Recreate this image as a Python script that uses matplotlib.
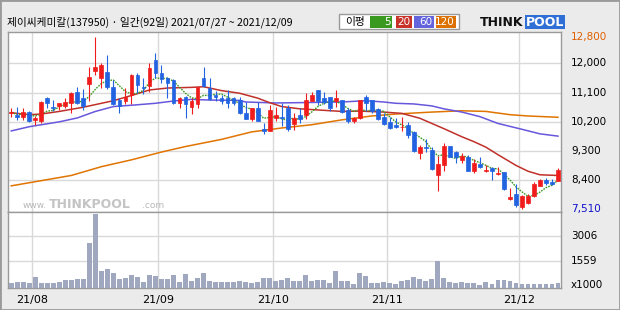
import numpy as np
import pandas as pd
import matplotlib
matplotlib.use('Agg')
import matplotlib.pyplot as plt
from matplotlib.patches import Rectangle
from matplotlib.transforms import blended_transform_factory

plt.rcParams['font.family'] = ['Noto Sans CJK KR', 'DejaVu Sans']

title = '제이씨케미칼(137950) · 일간(92일) 2021/07/27 ~ 2021/12/09'

# daily candles, 2021/07/27 ~ 2021/12/09 (92 trading days)
opens = [10460, 10420, 10340, 10500, 10260, 10240, 10930, 10670, 10690, 10690,
         10790, 11120, 10930, 11360, 11770, 11550, 11730, 11280, 10870, 10850,
         11020, 11650, 11280, 11300, 12100, 11710, 11550, 11490, 10790, 10950,
         10650, 10750, 11550, 11240, 11040, 10930, 10930, 10930, 10870, 10460,
         10300, 10630, 9990, 9930, 10320, 10360, 10630, 10130, 10420, 10400,
         10850, 11180, 10930, 10970, 10830, 10870, 10560, 10240, 10320, 10950,
         10870, 10580, 10340, 10190, 10090, 10030, 10090, 9890, 9230, 9440,
         9330, 8550, 8860, 9460, 9270, 9010, 9110, 8700, 8900, 8680,
         8780, 8600, 8660, 7820, 7980, 7590, 7690, 7920, 8230, 8410,
         8350, 8390]
highs = [10610, 10650, 10630, 10520, 10380, 10830, 10970, 10870, 10790, 10920,
         11120, 11260, 11220, 11900, 12800, 12000, 12270, 11490, 10930, 11230,
         11670, 11710, 11550, 12000, 12330, 11960, 11590, 11510, 10970, 10990,
         10930, 11280, 11900, 11550, 11160, 11040, 11180, 10970, 10970, 10810,
         10630, 10810, 10170, 10710, 10670, 10790, 10710, 10460, 10630, 11080,
         11120, 11180, 11120, 10970, 11180, 10870, 10610, 10340, 10870, 11020,
         10870, 10630, 10460, 10340, 10320, 10360, 10190, 9910, 9480, 9660,
         9420, 9150, 9540, 9460, 9290, 9250, 9170, 9050, 9130, 8860,
         8820, 8820, 8660, 8160, 8290, 7940, 7980, 8350, 8450, 8470,
         8450, 8780]
lows = [10340, 10260, 10260, 10200, 10100, 10170, 10610, 10520, 10560, 10610,
        10480, 10750, 10560, 10850, 11650, 11230, 11220, 10710, 10480, 10750,
        10750, 11100, 11060, 11120, 11550, 11390, 10930, 10750, 10630, 10320,
        10440, 10630, 11280, 10870, 10850, 10750, 10630, 10710, 10440, 10280,
        10240, 10220, 9830, 9910, 10240, 10070, 9930, 9950, 10170, 10300,
        10830, 10710, 10750, 10540, 10650, 10480, 10150, 10170, 10300, 10540,
        10480, 10260, 10090, 9990, 10010, 9910, 9700, 9270, 9070, 9270,
        8720, 8080, 8680, 9110, 8940, 8940, 8680, 8640, 8780, 8660,
        8410, 8550, 8100, 7800, 7590, 7510, 7670, 7900, 8210, 8270,
        8270, 8370]
closes = [10500, 10340, 10500, 10240, 10320, 10810, 10770, 10630, 10770, 10810,
          11080, 10790, 10690, 11570, 11880, 11960, 11260, 10750, 10690, 10970,
          11650, 11320, 11240, 11860, 11690, 11530, 11390, 10790, 10930, 10750,
          10830, 11260, 11300, 10910, 10950, 10850, 10790, 10790, 10460, 10300,
          10630, 10240, 9930, 10560, 10420, 10320, 9990, 10320, 10300, 10870,
          11020, 10830, 10810, 10610, 10930, 10500, 10240, 10320, 10870, 10790,
          10520, 10300, 10130, 10010, 10030, 10050, 9800, 9310, 9440, 9380,
          8740, 8900, 9460, 9130, 9130, 9150, 8700, 8940, 8800, 8720,
          8680, 8620, 8140, 7900, 7650, 7920, 7920, 8290, 8410, 8330,
          8290, 8720]
# volume, x1000 shares
volume = [274, 333, 333, 274, 624, 294, 274, 294, 333, 449,
          449, 508, 508, 2610, 4300, 994, 1090, 877, 488, 547,
          741, 644, 352, 722, 683, 488, 527, 741, 352, 800,
          391, 547, 858, 391, 313, 313, 352, 352, 391, 352,
          274, 352, 566, 566, 391, 449, 566, 391, 371, 741,
          371, 430, 449, 274, 975, 391, 391, 235, 877, 683,
          294, 294, 333, 294, 216, 391, 430, 624, 508, 410,
          508, 1558, 566, 333, 294, 313, 294, 294, 177, 333,
          216, 449, 449, 410, 294, 235, 216, 216, 216, 216,
          216, 294]

# moving averages (day index, price)
ma20_idx = [0, 3, 5, 8, 12, 15, 17, 20, 23, 26, 30, 32, 35, 38, 41, 43, 45,
            48, 55, 58, 62, 65, 68, 70, 72, 75, 77, 79, 81, 84, 86, 88, 91]
ma20_val = [10480, 10420, 10440, 10520, 10650, 10770, 10850, 11010, 11180,
            11240, 11260, 11280, 11160, 11080, 10930, 10790, 10670, 10600,
            10520, 10530, 10500, 10460, 10310, 10150, 9990, 9740, 9590, 9420,
            9190, 8860, 8680, 8570, 8550]
ma60_idx = [0, 3, 8, 11, 14, 17, 20, 24, 27, 30, 33, 38, 39, 44, 48, 55, 59,
            62, 64, 67, 70, 72, 75, 78, 81, 85, 88, 91]
ma60_val = [9920, 10050, 10200, 10320, 10520, 10670, 10710, 10770, 10840,
            10890, 10870, 10860, 10810, 10780, 10790, 10810, 10850, 10810,
            10770, 10750, 10690, 10600, 10500, 10360, 10150, 9970, 9830, 9760]
ma120_idx = [0, 5, 10, 15, 20, 25, 29, 35, 40, 45, 50, 55, 60, 64, 70, 75,
             79, 83, 86, 91]
ma120_val = [8230, 8390, 8550, 8820, 9030, 9270, 9440, 9660, 9890, 10010,
             10110, 10260, 10380, 10440, 10500, 10540, 10520, 10420, 10380,
             10340]

month_idx = [4, 25, 44, 63, 85]
month_labels = ['21/08', '21/09', '21/10', '21/11', '21/12']
price_ticks = [12000, 11100, 10200, 9300, 8400]
price_max, price_min = 12800, 7510
vol_ticks = [1559, 3006]

RED = '#f01c1c'
BLUE = '#2163e0'
GRID = '#d9d9d9'

W, H = 620, 310
def frect(x0, y0, x1, y1):
    return [x0 / W, 1 - y1 / H, (x1 - x0) / W, (y1 - y0) / H]

fig = plt.figure(figsize=(6.2, 3.1), dpi=100)
fig.patch.set_facecolor('#ebebeb')

ax = fig.add_axes(frect(7.5, 31.7, 561, 212.3))
axv = fig.add_axes(frect(7.5, 212.3, 561, 287.7), sharex=ax)

x = np.arange(len(closes))
o = np.array(opens); c = np.array(closes)
h = np.array(highs); l = np.array(lows)
col = np.where(c >= o, RED, BLUE)

# moving averages
ma5 = pd.Series(closes).rolling(5, min_periods=1).mean()
ax.plot(ma120_idx, ma120_val, color='#e07400', lw=1.1, zorder=2)
ax.plot(ma60_idx, ma60_val, color='#6757dc', lw=1.1, zorder=2)
ax.plot(ma20_idx, ma20_val, color='#c0302a', lw=1.1, zorder=2)
ax.plot(x, ma5, color='#3d9a23', lw=1.0, ls=(0, (1.2, 0.8)), zorder=2)

# candles
ax.vlines(x, l, h, colors=col, lw=0.8, zorder=3)
ax.bar(x, np.abs(c - o), width=0.64, bottom=np.minimum(o, c), color=col,
       edgecolor=col, linewidth=0.5, zorder=4)

# volume
axv.bar(x, volume, width=0.8, color='#a0a8c0', zorder=3)

ax.set_xlim(-0.63, 91.5)
ax.set_ylim(7416, 12973)
axv.set_ylim(0, 4400)

for a in (ax, axv):
    a.set_xticks(np.array(month_idx) - 0.5)
    a.grid(True, color=GRID, lw=1, zorder=0)
    a.set_facecolor('white')
    for s in a.spines.values():
        s.set_color('#9a9a9a')
        s.set_linewidth(1)
    a.tick_params(length=0, labelleft=False, labelright=False)
ax.set_yticks(price_ticks)
ax.tick_params(labelbottom=False)
axv.set_yticks(vol_ticks)
axv.set_xticklabels(month_labels, fontsize=8, family='DejaVu Sans')
axv.tick_params(axis='x', pad=5.5)

# right-hand labels
tr = blended_transform_factory(ax.transAxes, ax.transData)
for v in price_ticks:
    ax.text(1.018, v, f'{v:,}', transform=tr, fontsize=7.5, va='center',
            family='DejaVu Sans')
ax.text(1.018, price_max, f'{price_max:,}', transform=tr, fontsize=7.5,
        va='center', color='#e06000', family='DejaVu Sans')
ax.text(1.018, price_min, f'{price_min:,}', transform=tr, fontsize=7.5,
        va='center', color='#1010d0', family='DejaVu Sans')
trv = blended_transform_factory(axv.transAxes, axv.transData)
for v in vol_ticks:
    axv.text(1.018, v, str(v), transform=trv, fontsize=7.5, va='center',
             family='DejaVu Sans')
axv.text(1.018, 160, 'x1000', transform=trv, fontsize=7.5, va='center',
         family='DejaVu Sans')

# watermark (pixel positions inside the price panel)
def px(xp):
    return (xp - 7.5) / 553.5
ax.text(px(23), 0.04, 'www.', transform=ax.transAxes, fontsize=6.5,
        color='#b8b8b8', va='center', family='DejaVu Sans')
ax.text(px(49), 0.045, 'THINKPOOL', transform=ax.transAxes, fontsize=9,
        color='#c4c4c4', weight='bold', va='center', family='DejaVu Sans')
ax.text(px(142), 0.04, '.com', transform=ax.transAxes, fontsize=6.5,
        color='#b8b8b8', va='center', family='DejaVu Sans')

# header
fig.text(7 / W, 1 - 22 / H, title, fontsize=7.7, va='center')

fig.patches.append(Rectangle((339 / W, 1 - 29.3 / H), 119.5 / W, 15.3 / H,
                             transform=fig.transFigure, facecolor='white',
                             edgecolor='#9a9a9a', lw=1))
fig.text(345 / W, 1 - 21.7 / H, '이평', fontsize=7.7, va='center')
legend = [('5', '#3a9a20', 370.4, 392), ('20', '#c83228', 396.4, 412.3),
          ('60', '#6464dc', 413.8, 434), ('120', '#dc7000', 436, 455.7)]
for lab, cc, x0, x1 in legend:
    fig.patches.append(Rectangle((x0 / W, 1 - 27.7 / H), (x1 - x0) / W, 12 / H,
                                 transform=fig.transFigure, facecolor=cc,
                                 edgecolor='none'))
    fig.text((x1 - 1.5) / W, 1 - 21.7 / H, lab, fontsize=7.5, color='white',
             ha='right', va='center', family='DejaVu Sans')

# logo
fig.text(480 / W, 1 - 22 / H, 'THINK', fontsize=9, weight='bold',
         va='center', family='DejaVu Sans', color='#111111')
fig.text(526 / W, 1 - 22 / H, 'POOL', fontsize=9, weight='bold',
         va='center', family='DejaVu Sans', color='white',
         bbox=dict(facecolor='#2f6fd6', edgecolor='none', pad=0.6))

fig.patches.append(Rectangle((0, 0), 1, 1, transform=fig.transFigure,
                             fill=False, edgecolor='#9a9a9a', lw=2))

fig.savefig('out.png', dpi=100, facecolor=fig.get_facecolor())
